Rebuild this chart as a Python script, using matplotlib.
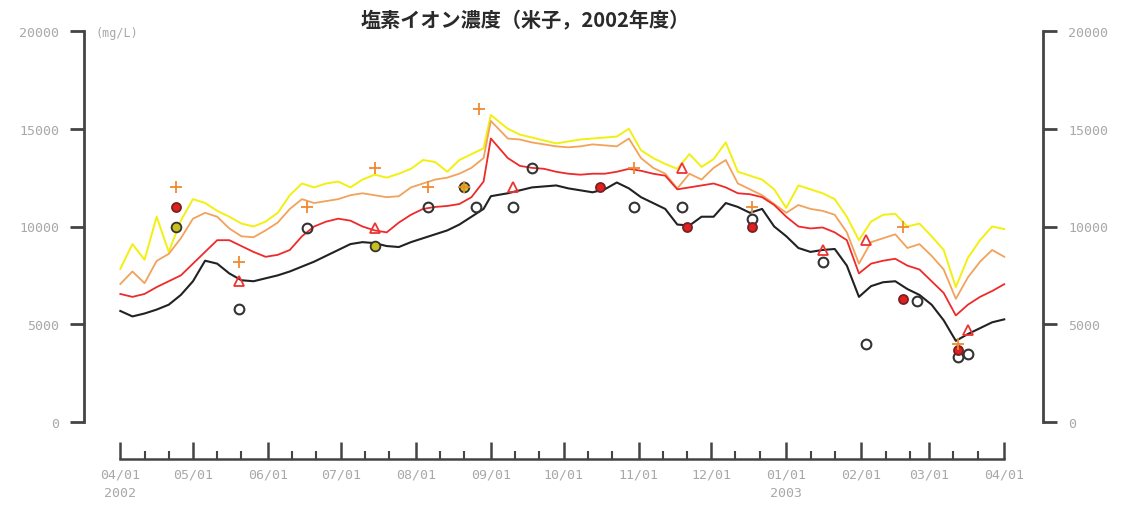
import numpy as np
import matplotlib
matplotlib.use("Agg")
import matplotlib.pyplot as plt
import matplotlib.dates as mdates
from matplotlib.ticker import FixedLocator

# ---------------- data ----------------
start = np.datetime64("2002-04-01")
days = [0, 5, 10, 15, 20, 25, 30, 35, 40, 45, 50, 55, 60, 65, 70, 75, 80, 85, 90, 95,
        100, 105, 110, 115, 120, 125, 130, 135, 140, 145, 150, 153, 160, 165, 170, 175,
        180, 185, 190, 195, 200, 205, 210, 215, 220, 225, 230, 235, 240, 245, 250, 255,
        260, 265, 270, 275, 280, 285, 290, 295, 300, 305, 310, 315, 320, 325, 330, 335,
        340, 345, 350, 355, 360, 365]

black_line = [5680, 5400, 5550, 5750, 6000, 6500, 7200, 8250, 8100, 7600, 7250, 7200, 7350, 7500,
              7700, 7950, 8200, 8500, 8800, 9100, 9200, 9150, 9000, 8950, 9200, 9400, 9600, 9800,
              10100, 10500, 10900, 11550, 11700, 11850, 12000, 12050, 12100, 11950, 11850, 11750,
              11900, 12250, 11950, 11500, 11200, 10900, 10100, 10050, 10500, 10500, 11200, 11000,
              10700, 10900, 10000, 9500, 8900, 8700, 8800, 8850, 8000, 6400, 6950, 7150, 7200,
              6800, 6500, 6000, 5200, 4150, 4500, 4800, 5100, 5250]

red_line = [6550, 6400, 6550, 6900, 7200, 7500, 8100, 8700, 9300, 9300, 9000, 8700, 8450, 8550,
            8800, 9500, 10000, 10250, 10400, 10300, 10000, 9800, 9700, 10200, 10600, 10900, 11000,
            11050, 11150, 11500, 12300, 14500, 13500, 13100, 13000, 12950, 12800, 12700, 12650,
            12700, 12700, 12800, 12950, 12850, 12700, 12600, 11900, 12000, 12100, 12200, 12000,
            11700, 11650, 11500, 11100, 10500, 10000, 9900, 9950, 9700, 9300, 7600, 8100, 8250,
            8350, 8000, 7800, 7200, 6600, 5450, 6000, 6400, 6700, 7050]

orange_line = [7060, 7700, 7100, 8240, 8600, 9400, 10400, 10700, 10500, 9900, 9500, 9450, 9800,
               10200, 10900, 11400, 11200, 11300, 11400, 11600, 11700, 11600, 11500, 11550, 12000,
               12200, 12400, 12500, 12700, 13000, 13500, 15400, 14500, 14450, 14300, 14200, 14100,
               14050, 14100, 14200, 14150, 14100, 14500, 13500, 13000, 12700, 11950, 12700, 12400,
               13000, 13400, 12200, 11900, 11600, 11150, 10700, 11100, 10900, 10800, 10600, 9700,
               8100, 9200, 9400, 9600, 8900, 9100, 8500, 7800, 6300, 7400, 8200, 8800, 8450]

yellow_line = [7830, 9100, 8300, 10500, 8700, 10300, 11400, 11200, 10800, 10500, 10150, 10000,
               10250, 10700, 11600, 12200, 12000, 12200, 12300, 12000, 12400, 12650, 12500, 12700,
               12950, 13400, 13300, 12800, 13400, 13700, 14000, 15700, 15000, 14700, 14550, 14400,
               14250, 14350, 14450, 14500, 14550, 14600, 15000, 13900, 13500, 13200, 12950, 13700,
               13050, 13450, 14300, 12800, 12600, 12400, 11900, 10950, 12100, 11900, 11700, 11400,
               10500, 9300, 10250, 10600, 10650, 10000, 10150, 9500, 8800, 6900, 8400, 9300, 10000,
               9870]

plus_days = [23, 49, 77, 105, 127, 142, 148, 212, 261, 323, 346]
plus_vals = [12000, 8200, 11000, 13000, 12000, 12000, 16000, 13000, 11000, 10000, 4000]

tri_days = [49, 105, 162, 232, 290, 308, 350]
tri_vals = [7200, 9900, 12000, 13000, 8800, 9300, 4700]

redc_days = [23, 198, 234, 261, 323, 346]
redc_vals = [11000, 12000, 10000, 10000, 6300, 3700]

blackc_days = [49, 77, 127, 147, 162, 170, 212, 232, 261, 290, 308, 329, 346, 350]
blackc_vals = [5800, 9900, 11000, 11000, 11000, 13000, 11000, 11000, 10400, 8200, 4000, 6200,
               3300, 3500]

yellc_days = [23, 105, 142]
yellc_vals = [10000, 9000, 12000]

y_ticks = [0, 5000, 10000, 15000, 20000]
title = "塩素イオン濃度（米子，2002年度）"
unit = "(mg/L)"

# ---------------- plot ----------------
def to_dates(d):
    return start + np.array(d, dtype="timedelta64[D]")

W, H = 1125, 506
fig = plt.figure(figsize=(W / 100, H / 100), dpi=100)
ax = fig.add_axes([84 / W, 1 - 460 / H, (1043 - 84) / W, (460 - 32) / H])

x_line = to_dates(days)
ax.plot(x_line, yellow_line, color="#f2f010", lw=1.4, zorder=2)
ax.plot(x_line, orange_line, color="#f2a25a", lw=1.3, zorder=3)
ax.plot(x_line, red_line, color="#ee2a2a", lw=1.3, zorder=4)
ax.plot(x_line, black_line, color="#222222", lw=1.5, zorder=5)

ax.plot(to_dates(yellc_days), yellc_vals, "o", ms=7, mfc="#c8c020", mec="#333333",
        mew=1.3, ls="none", zorder=6)
ax.plot(to_dates(blackc_days), blackc_vals, "o", ms=7, mfc="none", mec="#333333",
        mew=1.5, ls="none", zorder=6)
ax.plot(to_dates(redc_days), redc_vals, "o", ms=6.5, mfc="#e02020", mec="#772222",
        mew=1.3, ls="none", zorder=7)
ax.plot(to_dates(tri_days), tri_vals, "^", ms=6.5, mfc="none", mec="#ee3333",
        mew=1.3, ls="none", zorder=7)
ax.plot(to_dates(plus_days), plus_vals, "+", ms=9, mec="#f08a30",
        mew=1.3, ls="none", zorder=8)

x0 = start
x1 = start + np.timedelta64(365, "D")
ax.set_xlim(start + np.timedelta64(-15, "D"), start + np.timedelta64(381, "D"))
ax.set_ylim(-(460 - 423) * 20000 / 391, 20000)

ax.spines["top"].set_visible(False)
for s in ["left", "right"]:
    ax.spines[s].set_bounds(0, 20000)
    ax.spines[s].set_color("#444444")
    ax.spines[s].set_linewidth(2)
n0 = mdates.date2num(x0.astype("datetime64[D]").item())
n1 = mdates.date2num(x1.astype("datetime64[D]").item())
ax.spines["bottom"].set_bounds(n0, n1)
ax.spines["bottom"].set_color("#444444")
ax.spines["bottom"].set_linewidth(1.8)

ax.set_yticks(y_ticks)
ax.set_yticklabels([str(v) for v in y_ticks])
ax.tick_params(axis="y", which="both", left=True, right=True, labelleft=True,
               labelright=True, direction="out", length=10, width=2, color="#444444",
               pad=8, labelsize=9.5, labelcolor="#a8a8a8")
for t in ax.yaxis.get_major_ticks():
    t.label2.set_fontfamily("DejaVu Sans Mono")
    t.label1.set_fontfamily("DejaVu Sans Mono")

ax.xaxis.set_major_locator(mdates.MonthLocator())
months = np.arange(np.datetime64("2002-04"), np.datetime64("2003-04"), dtype="datetime64[M]")
minor = []
for m in months:
    d = m.astype("datetime64[D]")
    minor += [d + np.timedelta64(10, "D"), d + np.timedelta64(20, "D")]
minor_num = [mdates.date2num(v.item()) for v in minor]
ax.xaxis.set_minor_locator(FixedLocator(minor_num))


def fmt(x, pos=None):
    d = mdates.num2date(x)
    s = d.strftime("%m/%d")
    if (d.year == 2002 and d.month == 4) or (d.year == 2003 and d.month == 1):
        s += "\n" + str(d.year)
    return s


ax.xaxis.set_major_formatter(plt.FuncFormatter(fmt))
ax.tick_params(axis="x", which="major", direction="in", length=12, width=1.8,
               color="#444444", pad=6, labelsize=9.5, labelcolor="#a8a8a8")
ax.tick_params(axis="x", which="minor", direction="in", length=6, width=1.5,
               color="#444444")
for lbl in ax.get_xticklabels():
    lbl.set_fontfamily("DejaVu Sans Mono")
    lbl.set_linespacing(1.6)

fig.text(95 / W, 1 - 33 / H, unit, fontsize=8.5, color="#a8a8a8",
         family="DejaVu Sans Mono", va="center", ha="left")
fig.text(525 / W, 1 - 20 / H, title, fontsize=14.5, fontweight="bold", color="#2a2a2a",
         family=["Noto Sans CJK JP", "DejaVu Sans"], va="center", ha="center")

fig.savefig("out.png", dpi=100)
